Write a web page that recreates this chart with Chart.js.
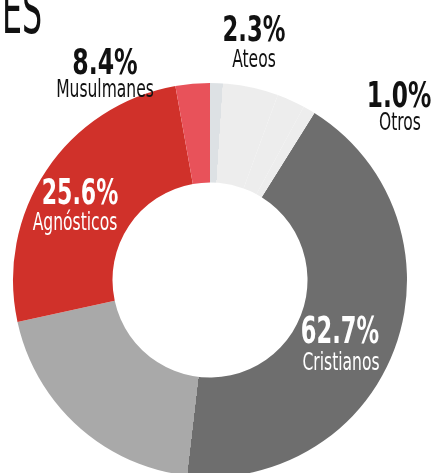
<!DOCTYPE html>
<html>
<head>
<meta charset="utf-8">
<script src="https://cdn.jsdelivr.net/npm/chart.js@4.4.1/dist/chart.umd.min.js"></script>
<style>
  html, body { margin: 0; padding: 0; background: #fff; overflow: hidden; width: 433px; height: 473px; }
  #wrap { position: absolute; left: 0; top: 0; width: 433px; height: 490px; }
  .txt { position: absolute; white-space: nowrap; line-height: 1; font-family: "DejaVu Sans Condensed", "Liberation Sans Narrow", sans-serif; transform-origin: 50% 50%; }
</style>
</head>
<body>
<div id="wrap"><canvas id="chart"></canvas></div>
<div id="labels"></div>
<script>
// data
const categories = ['Cristianos', 'Agnósticos', 'Musulmanes', 'Ateos', 'Otros'];
const values = [62.7, 25.6, 8.4, 2.3, 1.0];
const valueLabels = ['62.7%', '25.6%', '8.4%', '2.3%', '1.0%'];

const RED = '#d0312a';
const LIGHT_RED = '#e8525a';
const DARK_GRAY = '#6e6e6e';
const LIGHT_GRAY = '#a9a9a9';
const PALE = '#dde1e4';
const FADED = '#ededed';
const ROTATION = 32;

// conic gradient that starts where the chart starts (top + ROTATION)
function conic(chart, stops) {
    const area = chart.chartArea;
    if (!area) return null;
    const cx = (area.left + area.right) / 2;
    const cy = (area.top + area.bottom) / 2;
    const g = chart.ctx.createConicGradient((ROTATION - 90) * Math.PI / 180, cx, cy);
    for (const [pos, col] of stops) g.addColorStop(pos, col);
    return g;
}

const total = values.reduce((a, b) => a + b, 0);
function sliceStart(i) {
    let s = 0;
    for (let k = 0; k < i; k++) s += values[k];
    return s / total;
}

function sliceColor(ctx) {
    const i = ctx.dataIndex;
    const chart = ctx.chart;
    const s = sliceStart(i);
    const e = s + values[i] / total;
    if (i === 0) {
        // darker part turns into a lighter gray towards the end of the slice
        const split = s + (e - s) * 0.685;
        return conic(chart, [[0, DARK_GRAY], [split, DARK_GRAY], [split + 0.0001, LIGHT_GRAY], [1, LIGHT_GRAY]]) || DARK_GRAY;
    }
    if (i === 1) return RED;
    if (i === 2) {
        const a = s + (e - s) * 0.334;
        const b = s + (e - s) * 0.457;
        return conic(chart, [[0, LIGHT_RED], [a, LIGHT_RED], [a + 0.0001, PALE], [b, PALE], [b + 0.0001, FADED], [1, FADED]]) || LIGHT_RED;
    }
    return FADED;
}

new Chart(document.getElementById('chart'), {
    type: 'doughnut',
    data: {
        labels: categories,
        datasets: [{
            data: values,
            backgroundColor: sliceColor,
            borderWidth: 0,
            hoverOffset: 0
        }]
    },
    options: {
        responsive: true,
        maintainAspectRatio: false,
        animation: false,
        rotation: ROTATION,
        cutout: '49.5%',
        layout: { padding: { left: 13, right: 26, top: 83, bottom: 13 } },
        plugins: { legend: { display: false }, tooltip: { enabled: false } }
    }
});

const layer = document.getElementById('labels');
function addText(text, cx, base, size, weight, color, sx) {
    const el = document.createElement('div');
    el.className = 'txt';
    el.textContent = text;
    el.style.fontSize = size + 'px';
    el.style.fontWeight = weight;
    el.style.color = color;
    el.style.top = (base - 0.8465 * size) + 'px';
    el.style.left = cx + 'px';
    el.style.transform = 'translateX(-50%) scaleX(' + sx + ')';
    layer.appendChild(el);
}

const labelSpots = {
    'Cristianos': { numX: 340, labX: 341, num: 343, lab: 370, numSize: 38, numSx: 0.66, color: '#fff' },
    'Agnósticos': { numX: 80, labX: 75, num: 205, lab: 230, numSize: 35, numSx: 0.70, color: '#fff' },
    'Musulmanes': { numX: 104.5, labX: 104.5, num: 75, lab: 97, numSize: 35, numSx: 0.75, color: '#111' },
    'Ateos': { numX: 253.5, labX: 253.5, num: 42, lab: 67, numSize: 35, numSx: 0.72, color: '#111' },
    'Otros': { numX: 398.5, labX: 400, num: 108, lab: 130, numSize: 35, numSx: 0.74, color: '#111' }
};
categories.forEach((c, i) => {
    const p = labelSpots[c];
    addText(valueLabels[i], p.numX, p.num, p.numSize, 'bold', p.color, p.numSx);
    addText(c, p.labX, p.lab, 24, 'normal', p.color, 0.72);
});

// title fragment cut at the top edge
const title = document.createElement('div');
title.className = 'txt';
title.textContent = 'ES';
title.style.fontSize = '64px';
title.style.color = '#111';
title.style.left = '2px';
title.style.top = (33 - 0.8465 * 64) + 'px';
title.style.transformOrigin = '0 50%';
title.style.transform = 'scaleX(0.55)';
layer.appendChild(title);
</script>
</body>
</html>
